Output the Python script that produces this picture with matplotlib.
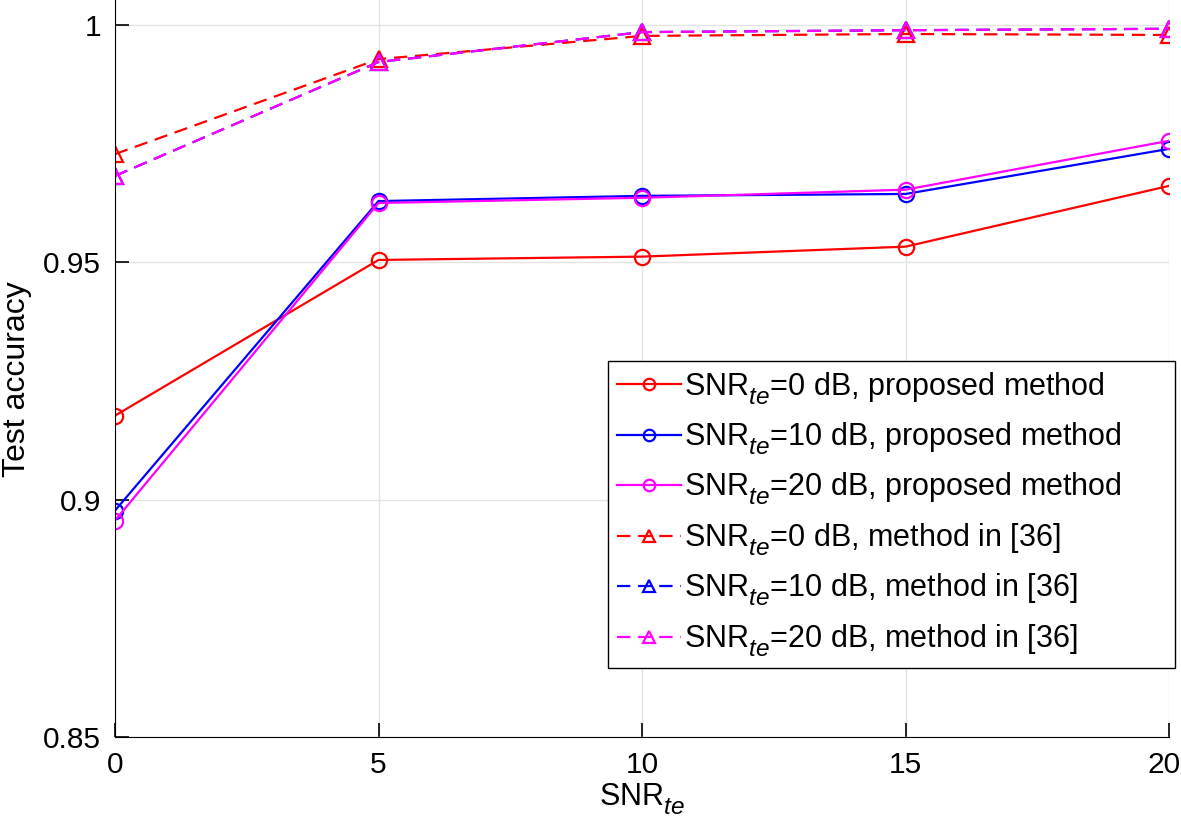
import numpy as np
import matplotlib
matplotlib.use('Agg')
import matplotlib.pyplot as plt
import matplotlib.transforms as mtransforms
import matplotlib._mathtext as mathtext_impl

plt.rcParams['font.family'] = ['Liberation Sans', 'DejaVu Sans']
plt.rcParams['mathtext.fontset'] = 'custom'
plt.rcParams['mathtext.rm'] = 'Liberation Sans'
plt.rcParams['mathtext.it'] = 'Liberation Sans:italic'
# MATLAB-style subscripts: a bit larger and lower than mathtext's default
mathtext_impl.SHRINK_FACTOR = 0.8
mathtext_impl.FontConstantsBase.sub1 = 0.55
mathtext_impl.FontConstantsBase.sub2 = 0.75

snr = [0, 5, 10, 15, 20]

# proposed method
prop_0db = [0.9177, 0.9505, 0.9512, 0.9533, 0.9661]
prop_10db = [0.8977, 0.9629, 0.9640, 0.9644, 0.9739]
prop_20db = [0.8956, 0.9625, 0.9636, 0.9653, 0.9756]

# method in [36]
ref_0db = [0.9728, 0.9928, 0.9977, 0.9981, 0.9979]
ref_10db = [0.9682, 0.9922, 0.9985, 0.9989, 0.9992]
ref_20db = [0.9682, 0.9922, 0.9985, 0.9989, 0.9992]

fig = plt.figure(figsize=(11.81, 8.32), dpi=100)
ax = fig.add_axes([115/1181, 95/832, 1054/1181, 737/832])

lw = 1.6
ms = 11
dash = (6, 3.5)
ax.plot(snr, prop_0db, '-o', color='red', lw=lw, ms=ms, mfc='none', mew=lw,
        label=r'SNR$_{te}$=0 dB, proposed method')
ax.plot(snr, prop_10db, '-o', color='blue', lw=lw, ms=ms, mfc='none', mew=lw,
        label=r'SNR$_{te}$=10 dB, proposed method')
ax.plot(snr, prop_20db, '-o', color='magenta', lw=lw, ms=ms, mfc='none', mew=lw,
        label=r'SNR$_{te}$=20 dB, proposed method')
ax.plot(snr, ref_0db, '--^', color='red', lw=lw, ms=ms, mfc='none', mew=lw,
        dashes=dash, label=r'SNR$_{te}$=0 dB, method in [36]')
ax.plot(snr, ref_10db, '--^', color='blue', lw=lw, ms=ms, mfc='none', mew=lw,
        dashes=dash, label=r'SNR$_{te}$=10 dB, method in [36]')
ax.plot(snr, ref_20db, '--^', color='magenta', lw=lw, ms=ms, mfc='none', mew=lw,
        dashes=dash, label=r'SNR$_{te}$=20 dB, method in [36]')

ax.set_xlim(0, 20)
ax.set_ylim(0.85, 1.0 + 25/237.5*0.05)
ax.set_xticks([0, 5, 10, 15, 20])
ax.set_yticks([0.85, 0.9, 0.95, 1.0])
ax.set_yticklabels(['0.85', '0.9', '0.95', '1'])
ax.grid(True, color='#e3e3e3', lw=1.0)
ax.set_axisbelow(True)
for side in ['top', 'right']:
    ax.spines[side].set_visible(False)
ax.tick_params(direction='in', length=10, width=1.2, labelsize=21.5, pad=10)
ax.set_xlabel(r'SNR$_{te}$', fontsize=22, labelpad=2)
ax.set_ylabel('Test accuracy', fontsize=23)
ax.yaxis.set_label_coords(-83/1054, 0.485)

# keep the last x tick label inside the figure, like MATLAB does
last = ax.get_xticklabels()[-1]
last.set_transform(last.get_transform() +
                   mtransforms.ScaledTranslation(-5/100, 0, fig.dpi_scale_trans))

# MATLAB legend box is wider than its text, so stretch it to the box seen
leg_box = (608/1181, 1 - 669/832, (1175 - 608)/1181, (669 - 361)/832)
leg = ax.legend(loc='upper left', bbox_to_anchor=leg_box, mode='expand',
                bbox_transform=fig.transFigure, fontsize=22, frameon=True,
                fancybox=False, edgecolor='black', framealpha=1,
                handlelength=2.1, handletextpad=0.1, labelspacing=0.46,
                borderpad=0.3, borderaxespad=0, markerscale=0.75)
leg.get_frame().set_linewidth(1.0)

fig.savefig('out.png', dpi=100)
